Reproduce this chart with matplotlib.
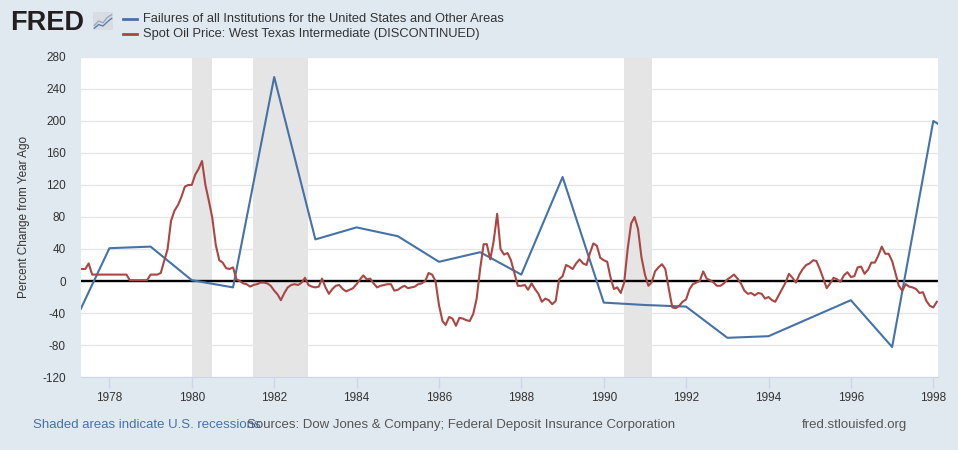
import datetime as dt
import numpy as np
import pandas as pd
import matplotlib
matplotlib.use("Agg")
import matplotlib.pyplot as plt
import matplotlib.dates as mdates

plt.rcParams['font.family'] = ['Liberation Sans', 'DejaVu Sans']
plt.rcParams['axes.unicode_minus'] = False

# annual series: failures of all institutions, % change from year ago
fail_years = list(range(1977, 2000))
fail_pct = [-68, 41, 43, 1, -8, 255, 52, 67, 56, 24, 36, 8, 130, -27,
            -30, -32, -71, -69, -46.5, -24, -82.5, 200, 169]

# monthly series: WTI spot oil price, % change from year ago (Apr 1977 - Feb 1998)
oil_start = "1977-04-01"
oil_pct = [
    15, 15, 15, 22, 8, 8, 8, 8, 8, 8, 8, 8, 8, 8, 8, 1, 1, 1, 1, 1, 1, 8, 8, 8,
    10, 25, 40, 75, 88, 95, 105, 118, 120, 120, 133, 140, 150, 120, 100, 79, 45, 26,
    23, 16, 15, 17, 2, 0, -3, -4, -7, -5, -4, -2, -2, -3, -6, -12, -17, -24,
    -15, -8, -5, -4, -5, -2, 4, -5, -7, -8, -7, 3, -8, -16, -10, -6, -5, -10,
    -13, -11, -9, -4, 2, 7, 2, 3, -3, -8, -6, -5, -4, -4, -12, -11, -8, -6,
    -9, -8, -7, -4, -3, 0, 10, 8, 0, -30, -50, -55, -45, -47, -56, -46, -47, -49,
    -50, -41, -22, 15, 46, 46, 27, 50, 84, 40, 33, 35, 26, 10, -6, -6, -5, -11,
    -3, -10, -16, -26, -22, -24, -29, -25, 2, 6, 20, 18, 15, 22, 27, 22, 20, 35,
    47, 44, 29, 26, 24, 5, -10, -8, -15, -2, 40, 72, 80, 65, 30, 8, -6, -2,
    12, 17, 21, 15, -10, -33, -34, -31, -26, -23, -10, -4, -2, 0, 12, 3, 1, -2,
    -6, -6, -3, 2, 5, 8, 3, -3, -12, -16, -15, -18, -15, -16, -22, -20, -24, -26,
    -18, -10, -2, 9, 4, -2, 8, 15, 20, 22, 26, 25, 15, 3, -9, -3, 4, 2,
    -1, 7, 11, 5, 6, 17, 18, 9, 14, 23, 23, 32, 43, 34, 34, 25, 9, -6,
    -12, -4, -7, -8, -10, -15, -14, -25, -31, -33, -26,
]

recessions = [("1980-01-01", "1980-07-01"), ("1981-07-01", "1982-11-01"),
              ("1990-07-01", "1991-03-01")]

fail_dates = pd.to_datetime([f"{y}-01-01" for y in fail_years])
oil_dates = pd.date_range(oil_start, periods=len(oil_pct), freq="MS")

bg = "#e1e9f0"
blue = "#4572a7"
red = "#aa4643"

fig = plt.figure(figsize=(9.58, 4.5), dpi=100, facecolor=bg)
ax = fig.add_axes([81/958, 1-377/450, (937.7-81)/958, 320/450])
ax.set_facecolor("white")

for a, b in recessions:
    ax.axvspan(pd.Timestamp(a), pd.Timestamp(b), color="#e5e5e5", lw=0, zorder=0)

ax.set_ylim(-120, 280)
ax.set_yticks(np.arange(-120, 281, 40))
ax.yaxis.grid(True, color="#e6e6e6", lw=1)
ax.set_axisbelow(True)
ax.axhline(0, color="black", lw=1.7, zorder=2)

ax.plot(fail_dates, fail_pct, color=blue, lw=1.5, zorder=3)
ax.plot(oil_dates, oil_pct, color=red, lw=1.5, zorder=4)

ax.set_xlim(dt.datetime(1977, 4, 24), dt.datetime(1998, 2, 9))
ax.xaxis.set_major_locator(mdates.YearLocator(2))
ax.xaxis.set_major_formatter(mdates.DateFormatter("%Y"))

for s in ["top", "right", "left"]:
    ax.spines[s].set_visible(False)
ax.spines["bottom"].set_color("#ccd6eb")
ax.tick_params(axis="x", colors="#ccd6eb", length=8, width=1, labelcolor="#333333",
               labelsize=8.5, pad=3)
ax.tick_params(axis="y", length=0, labelcolor="#333333", labelsize=8.5, pad=11)
ax.set_ylabel("Percent Change from Year Ago", fontsize=8.5, color="#333333", labelpad=9)

# header
fig.text(10/958, 1-30/450, "FRED", fontsize=19.5, fontweight="bold", color="#231f20",
         va="baseline", ha="left")
icon = fig.add_axes([93/958, 1-30/450, 20/958, 18/450])
icon.set_facecolor("#d8dde3")
icon.plot([0, 1, 2, 3, 4], [1, 2, 1.6, 2.8, 3.4], color="#9aaabd", lw=1)
icon.plot([0, 1, 2, 3, 4], [0.4, 1.2, 0.9, 1.8, 2.6], color="#5f7fa8", lw=1)
icon.set_xlim(-0.3, 4.3)
icon.set_ylim(0, 4)
icon.set_xticks([])
icon.set_yticks([])
for s in icon.spines.values():
    s.set_visible(False)

fig.lines.append(plt.Line2D([123/958, 137/958], [1-19/450, 1-19/450], color=blue, lw=2,
                            transform=fig.transFigure))
fig.lines.append(plt.Line2D([123/958, 137/958], [1-34/450, 1-34/450], color=red, lw=2,
                            transform=fig.transFigure))
fig.text(143/958, 1-19/450, "Failures of all Institutions for the United States and Other Areas",
         fontsize=9.3, color="#333333", va="center")
fig.text(143/958, 1-34/450, "Spot Oil Price: West Texas Intermediate (DISCONTINUED)",
         fontsize=9.3, color="#333333", va="center")

# footer
fig.text(33/958, 1-425/450, "Shaded areas indicate U.S. recessions", fontsize=9.5,
         color="#4572a7", va="center")
fig.text(247/958, 1-425/450, "Sources: Dow Jones & Company; Federal Deposit Insurance Corporation",
         fontsize=9.5, color="#555555", va="center")
fig.text(907/958, 1-425/450, "fred.stlouisfed.org", fontsize=9.5, color="#555555",
         va="center", ha="right")

fig.savefig("out.png", dpi=100, facecolor=bg)
